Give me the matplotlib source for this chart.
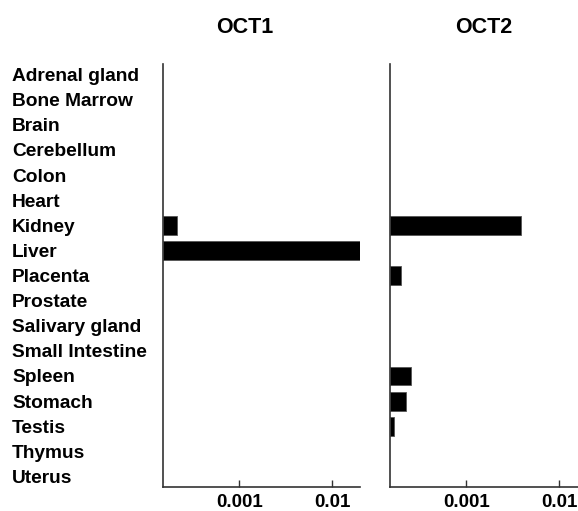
import matplotlib
matplotlib.use("Agg")
import matplotlib.pyplot as plt

plt.rcParams['font.family'] = ['Liberation Sans', 'DejaVu Sans']
plt.rcParams['font.weight'] = 'bold'

tissues = ["Adrenal gland", "Bone Marrow", "Brain", "Cerebellum", "Colon", "Heart",
           "Kidney", "Liver", "Placenta", "Prostate", "Salivary gland", "Small Intestine",
           "Spleen", "Stomach", "Testis", "Thymus", "Uterus"]
oct1 = [0, 0, 0, 0, 0, 0, 2.15e-4, 0.02, 0, 0, 0, 0, 0, 0, 0, 0, 0]
oct2 = [0, 0, 0, 0, 0, 0, 3.9e-3, 0, 1.96e-4, 0, 0, 0, 2.52e-4, 2.23e-4, 1.65e-4, 0, 0]
titles = ["OCT1", "OCT2"]
xticks = [0.001, 0.01]
xticklabels = ["0.001", "0.01"]
xmin, xmax = 1.5e-4, 0.02

W, H = 578, 511
fig = plt.figure(figsize=(W / 100, H / 100), dpi=100)

def frac_box(x0, x1, y0, y1):
    return [x0 / W, 1 - y1 / H, (x1 - x0) / W, (y1 - y0) / H]

panels = [(163, 360), (390, 587)]
title_x = [245, 484]
n = len(tissues)
pos = list(range(n))
pad_rows = 10.5 / 25.1

for i, (vals, (x0, x1)) in enumerate(zip([oct1, oct2], panels)):
    ax = fig.add_axes(frac_box(x0, x1, 64, 487))
    ax.set_xscale('log')
    ax.set_xlim(xmin, xmax)
    ax.set_ylim(n - 1 + pad_rows, -pad_rows)
    bar_pos = [p for p, v in zip(pos, vals) if v > 0]
    bar_vals = [v for v in vals if v > 0]
    ax.barh(bar_pos, [v - xmin for v in bar_vals], left=xmin, height=0.75,
            color='black', edgecolor='#555555', linewidth=0.6)
    for s in ['top', 'right']:
        ax.spines[s].set_visible(False)
    for s in ['left', 'bottom']:
        ax.spines[s].set_color('#333333')
        ax.spines[s].set_linewidth(1.2)
    ax.set_xticks(xticks)
    ax.set_xticklabels(xticklabels, fontsize=13.5, fontweight='bold')
    ax.xaxis.set_minor_locator(matplotlib.ticker.NullLocator())
    ax.tick_params(axis='x', direction='in', length=5, width=1, color='#333333', pad=5)
    if i == 0:
        ax.set_yticks(pos)
        ax.set_yticklabels(tissues, fontsize=13.8, fontweight='bold', ha='left')
        ax.tick_params(axis='y', length=0, pad=151 * 0.72)
    else:
        ax.set_yticks([])
    fig.text(title_x[i] / W, 1 - 27 / H, titles[i], ha='center', va='center',
             fontsize=15.5, fontweight='bold')

fig.savefig("out.png", dpi=100)
